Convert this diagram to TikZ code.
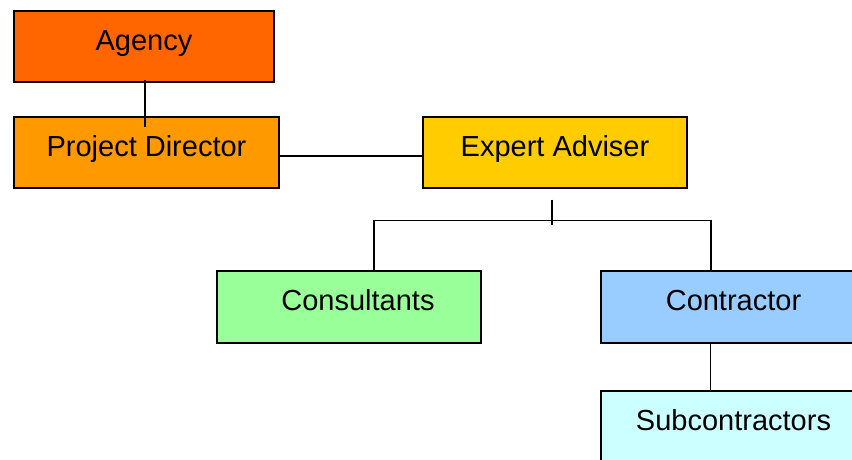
\documentclass[tikz,border=0pt]{standalone}
\usepackage{fontspec}
\setmainfont{Liberation Sans}
\usepackage{tikz}
\usetikzlibrary{positioning,calc}

\definecolor{agencyc}{HTML}{FF6600}
\definecolor{directorc}{HTML}{FF9900}
\definecolor{adviserc}{HTML}{FFCC00}
\definecolor{consultc}{HTML}{99FF99}
\definecolor{contractc}{HTML}{99CCFF}
\definecolor{subc}{HTML}{CCFFFF}

\begin{document}
\begin{tikzpicture}[x=1pt, y=-1pt]
        % Define styles
        \tikzset{
            unit/.style={draw, line width=1.3pt, rectangle, inner sep=0pt, minimum width=264pt, minimum height=71pt,
                font=\fontsize{29}{34}\selectfont, text height=21pt, text depth=14pt},
            link/.style={line width=1.5pt}
        }

        % Canvas
        \useasboundingbox (0,0) rectangle (852,459);
        \clip (0,0) rectangle (852,459);

        % Place nodes
        \node[unit, fill=agencyc, minimum width=260pt] (agency) at (144,46.5) {Agency};
        \node[unit, fill=directorc, minimum width=265pt] (director) at (146.5,152.5) {Project Director};
        \node[unit, fill=adviserc] (adviser) at (555,152.5) {Expert Adviser};
        \node[unit, fill=consultc, minimum height=72pt] (consult) at (349,307) {\hspace*{18pt}Consultants};
        \node[unit, fill=contractc, minimum width=265pt, minimum height=72pt] (contract) at (733.5,307) {Contractor};
        \node[unit, fill=subc, minimum width=265pt] (sub) at (733.5,426.5) {Subcontractors};

        % Draw connectors
        \draw[link] ([xshift=1pt,yshift=3pt]agency.south) -- ([xshift=-1.5pt,yshift=-11pt]director.north);
        \draw[link] ([yshift=-3.5pt]director.east) -- ([yshift=-3.5pt]adviser.west);
        \draw[link] ([xshift=-3pt,yshift=-11pt]adviser.south) -- ++(0,25);
        \draw[link] ([xshift=25pt]consult.north) -- ++(0,-50) -| ([xshift=-22.5pt]contract.north);
        \draw[link] ([xshift=-23pt]contract.south) -- ([xshift=-23pt]sub.north);
    \end{tikzpicture}
\end{document}
